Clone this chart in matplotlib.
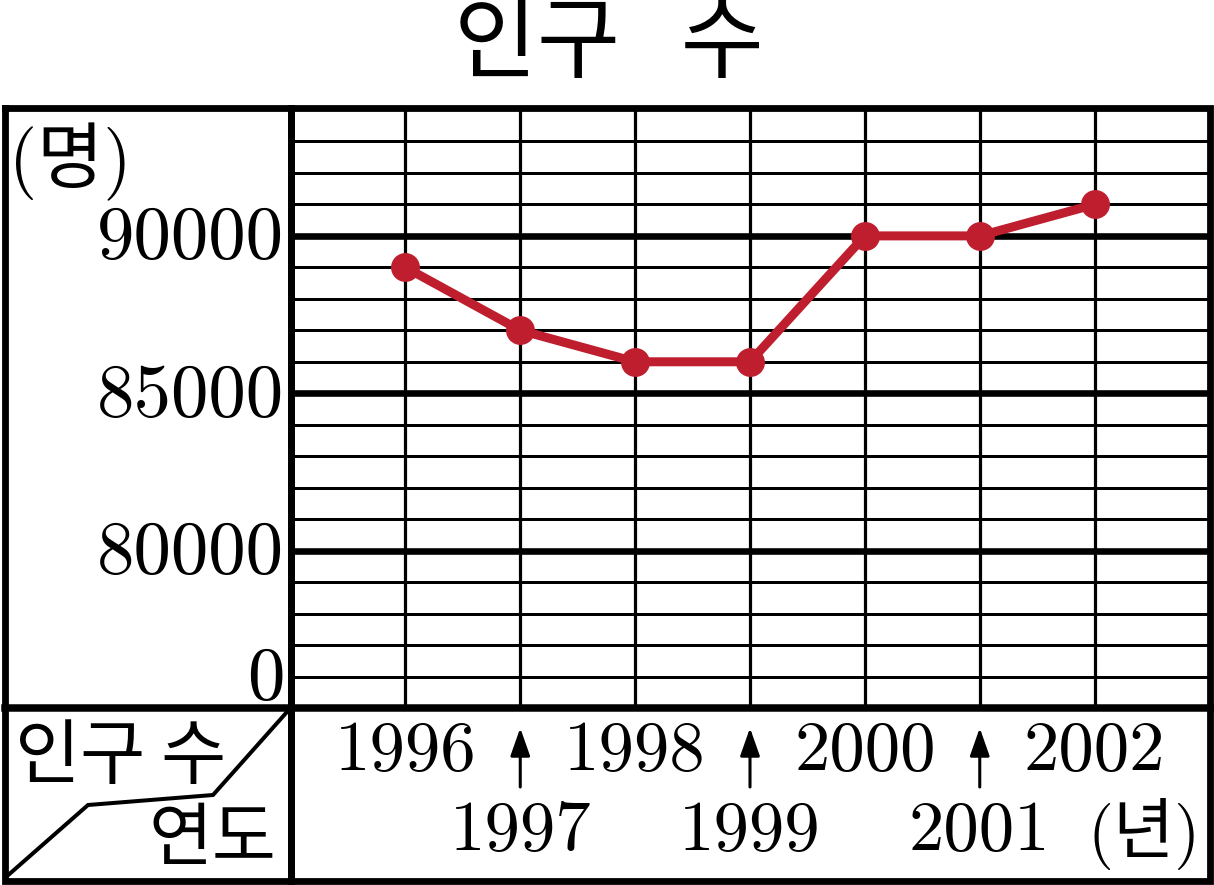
import matplotlib
matplotlib.use('Agg')
import matplotlib.pyplot as plt
from matplotlib.lines import Line2D
from matplotlib.patches import ArrowStyle
from matplotlib import transforms
import numpy as np

# ---------------- data ----------------
years = [1996, 1997, 1998, 1999, 2000, 2001, 2002]
population = [89000, 87000, 86000, 86000, 90000, 90000, 91000]
ytick_values = [76000, 80000, 85000, 90000]
ytick_labels = ['0', '80000', '85000', '90000']
title_text = '인구   수'
y_unit = '(명)'
x_unit = '(년)'
corner_top = '인구 수'
corner_bottom = '연도'

NUM_FONT = ['cmr10', 'DejaVu Serif']
KR_FONT = ['Noto Sans CJK KR', 'DejaVu Sans']
MIX_FONT = ['cmr10', 'Noto Sans CJK KR', 'DejaVu Sans']
RED = '#BE1E2D'

W, H = 1214, 885
fig = plt.figure(figsize=(W / 100, H / 100), dpi=100)
PX = 0.72  # points per pixel at dpi 100


def fx(x):
    return x / W


def fy(y):
    return 1 - y / H


# ---------------- plot axes ----------------
ax_left, ax_right, ax_top, ax_bottom = 290.5, 1209.5, 110, 708
ax = fig.add_axes([fx(ax_left), fy(ax_bottom),
                   (ax_right - ax_left) / W, (ax_bottom - ax_top) / H])
ax.set_xlim(1995, 2003)
ax.set_ylim(75000, 94000)
for s in ax.spines.values():
    s.set_visible(False)
ax.set_xticks([])
ax.set_yticks(ytick_values, ytick_labels)
ax.tick_params(axis='y', length=0, pad=4.5, labelsize=54)
shift_up = transforms.ScaledTranslation(0, 4 / 100, fig.dpi_scale_trans)
for lab in ax.get_yticklabels():
    lab.set_fontfamily(NUM_FONT)
    lab.set_transform(lab.get_transform() + shift_up)

for v in np.arange(76000, 94000, 1000):
    thick = (v % 5000 == 0)
    ax.axhline(v, color='black', lw=(6.6 if thick else 3.0) * PX, zorder=1)
for yr in years:
    ax.axvline(yr, color='black', lw=3.2 * PX, zorder=1)

ax.plot(years, population, color=RED, lw=9 * PX, marker='o',
        ms=27.5 * PX, zorder=3, solid_joinstyle='round')

# ---------------- frame ----------------
def fline(xs, ys, lw):
    fig.add_artist(Line2D([fx(x) for x in xs], [fy(y) for y in ys],
                          transform=fig.transFigure, color='black',
                          lw=lw * PX, solid_capstyle='projecting',
                          solid_joinstyle='miter'))

L, R, T, B = 4.5, 1209.5, 107.5, 880.5
fline([L, R, R, L, L], [T, T, B, B, T], 6.8)
fline([290.5, 290.5], [T, B], 7)
fline([L, R], [708, 708], 7.5)
# corner diagonal
fline([290.5, 213, 88, 6], [708, 795, 805, 877], 4)

# ---------------- texts ----------------
fig.text(fx(608.5), fy(46), title_text, ha='center', va='center',
         fontsize=65, family=KR_FONT)
fig.text(fx(70), fy(162), y_unit, ha='center', va='center',
         fontsize=52, family=MIX_FONT)
fig.text(fx(1144), fy(834), x_unit, ha='center', va='center',
         fontsize=48, family=MIX_FONT)
fig.text(fx(121), fy(757), corner_top, ha='center', va='center',
         fontsize=51, family=KR_FONT)
fig.text(fx(212), fy(840), corner_bottom, ha='center', va='center',
         fontsize=50, family=KR_FONT)

blend = transforms.blended_transform_factory(ax.transData, fig.transFigure)
arrow_style = ArrowStyle('-|>', head_length=1.7, head_width=0.6)
for i, yr in enumerate(years):
    if i % 2 == 0:
        ax.text(yr, fy(770), str(yr), transform=blend, ha='center',
                va='baseline', fontsize=51, family=NUM_FONT, clip_on=False)
    else:
        ax.text(yr, fy(850), str(yr), transform=blend, ha='center',
                va='baseline', fontsize=51, family=NUM_FONT, clip_on=False)
        ax.annotate('', xy=(yr, fy(728)), xytext=(yr, fy(787)),
                    xycoords=blend, textcoords=blend, annotation_clip=False,
                    arrowprops=dict(arrowstyle=arrow_style, color='black',
                                    lw=2.2, shrinkA=0, shrinkB=0,
                                    mutation_scale=10))

fig.savefig('out.png', dpi=100, facecolor='white')
